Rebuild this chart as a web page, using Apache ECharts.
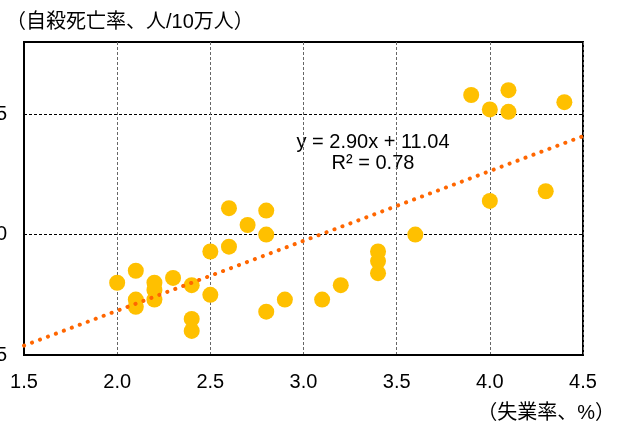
<!DOCTYPE html>
<html>
<head>
<meta charset="utf-8">
<script src="https://cdn.jsdelivr.net/npm/echarts@6/dist/echarts.min.js"></script>
<style>
  html, body { margin: 0; padding: 0; background: #fff; }
  #chart { width: 625px; height: 428px; }
</style>
</head>
<body>
<div id="chart"></div>
<script>
// Unemployment rate (%) per prefecture
const unemployment = [
  2.0, 2.1, 2.1, 2.1, 2.2, 2.2, 2.2, 2.3, 2.4, 2.4, 2.4,
  2.5, 2.5, 2.6, 2.6, 2.7, 2.8, 2.8, 2.8, 2.9, 3.1, 3.2,
  3.4, 3.4, 3.4, 3.6, 3.9, 4.0, 4.0, 4.1, 4.1, 4.3, 4.4
];
// Suicide rate (per 100,000 people), same order
const suicideRate = [
  18.0, 18.5, 17.3, 17.0, 18.0, 17.7, 17.3, 18.2, 17.9, 16.5, 16.0,
  19.3, 17.5, 21.1, 19.5, 20.4, 21.0, 20.0, 16.8, 17.3, 17.3, 17.9,
  19.3, 18.9, 18.4, 20.0, 25.8, 25.2, 21.4, 26.0, 25.1, 21.8, 25.5
];
// Linear trend: y = slope * x + intercept
const trendSlope = 2.90;
const trendIntercept = 11.04;
const trendR2 = 0.78;

const xTicks = { min: 1.5, max: 4.5, step: 0.5 };
const yTicks = { min: 15, max: 28, step: 5 };

const yAxisTitle = '（自殺死亡率、人/10万人）';
const xAxisTitle = '（失業率、%）';

const points = unemployment.map((x, i) => [x, suicideRate[i]]);
const trend = [xTicks.min, xTicks.max].map(x => [x, trendSlope * x + trendIntercept]);

const FONT = '"Liberation Sans", Arial, "Noto Sans CJK JP", sans-serif';

const chart = echarts.init(document.getElementById('chart'), null, { renderer: 'canvas' });
chart.setOption({
  backgroundColor: '#fff',
  animation: false,
  grid: {
    left: 24, right: 42, top: 42, bottom: 73,
    containLabel: false, outerBoundsMode: 'none',
    show: true, borderColor: '#000', borderWidth: 2, backgroundColor: 'transparent'
  },
  xAxis: {
    type: 'value',
    min: xTicks.min, max: xTicks.max, interval: xTicks.step,
    axisLine: { show: true, onZero: false, lineStyle: { color: '#000', width: 2 } },
    axisTick: { show: false },
    axisLabel: {
      margin: 17, color: '#000', fontSize: 20, fontFamily: FONT,
      hideOverlap: false,
      formatter: v => v.toFixed(1)
    },
    splitLine: { show: true, lineStyle: { color: '#666', width: 1, type: [3, 2] } }
  },
  yAxis: {
    type: 'value',
    min: yTicks.min, max: yTicks.max, interval: yTicks.step,
    axisLine: { show: true, onZero: false, lineStyle: { color: '#000', width: 2 } },
    axisTick: { show: false },
    axisLabel: {
      margin: 17, color: '#000', fontSize: 20, fontFamily: FONT,
      showMaxLabel: false
    },
    splitLine: { show: true, lineStyle: { color: '#000', width: 1, type: [3, 2] } }
  },
  series: [
    {
      type: 'scatter',
      data: points,
      symbol: 'circle',
      symbolSize: 16,
      itemStyle: { color: '#FFC000', opacity: 1 },
      z: 2
    },
    {
      type: 'line',
      data: trend,
      symbol: 'none',
      lineStyle: { color: '#FF6600', width: 4, type: [0.1, 8.4], cap: 'round' },
      z: 3
    }
  ],
  graphic: [
    {
      type: 'text', left: 6, top: 12,
      style: { text: yAxisTitle, fontSize: 20, fontFamily: FONT, fill: '#000' }
    },
    {
      type: 'text', right: 10, top: 403,
      style: { text: xAxisTitle, fontSize: 20, fontFamily: FONT, fill: '#000' }
    },
    {
      type: 'text', x: 373, y: 142,
      style: {
        text: 'y = ' + trendSlope.toFixed(2) + 'x + ' + trendIntercept.toFixed(2),
        fontSize: 20, fontFamily: FONT, fill: '#000', align: 'center', verticalAlign: 'middle'
      }
    },
    {
      type: 'text', x: 373, y: 163,
      style: {
        text: 'R² = ' + trendR2.toFixed(2),
        fontSize: 20, fontFamily: FONT, fill: '#000', align: 'center', verticalAlign: 'middle'
      }
    }
  ]
});
</script>
</body>
</html>
